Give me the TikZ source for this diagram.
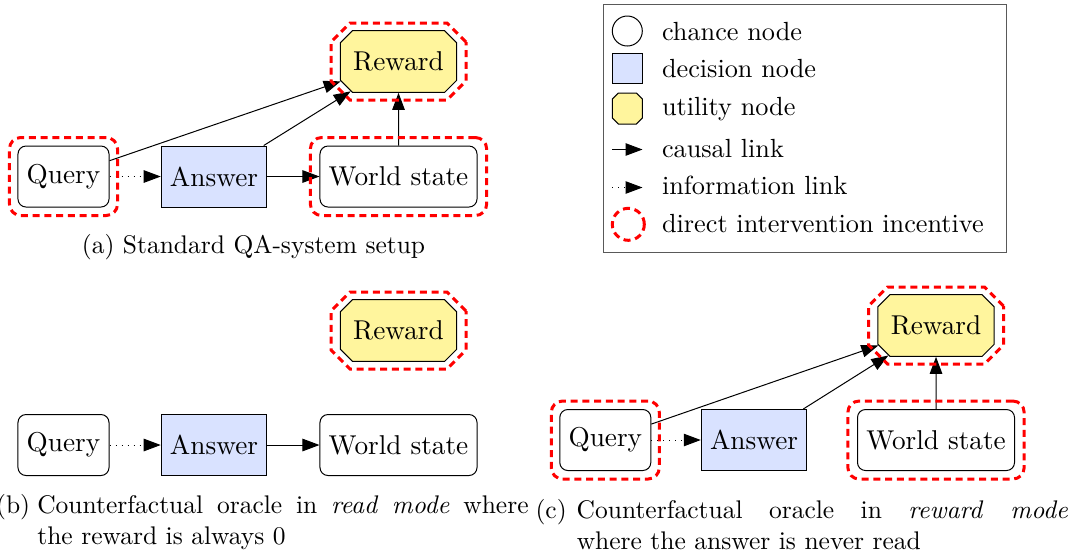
\documentclass[tikz,border=0pt]{standalone}
\usetikzlibrary{shapes.misc,arrows.meta}
\definecolor{decblue}{RGB}{217,226,255}
\definecolor{utilyellow}{RGB}{255,245,157}
\definecolor{incred}{RGB}{255,0,0}
\begin{document}
\begin{tikzpicture}[x=0.4pt,y=-0.4pt,
  nodefont/.style={font=\fontsize{10.9}{13}\selectfont},
  chance/.style={nodefont, draw, fill=white, rounded corners=3.2pt, rectangle, minimum height=24.4pt, inner xsep=3.5pt, inner ysep=0pt},
  decision/.style={nodefont, draw, fill=decblue, rectangle, minimum height=24.4pt, inner xsep=3.5pt, inner ysep=0pt},
  utility/.style={nodefont, draw, fill=utilyellow, chamfered rectangle, chamfered rectangle xsep=2.4pt, chamfered rectangle ysep=2.4pt, inner xsep=2.75pt, inner ysep=6.02pt},
  incline/.style={draw=incred, line width=1.2pt, dash pattern=on 2.8pt off 1.9pt},
  incrr/.style={incline, rounded corners=4.5pt, rectangle, minimum width=#1, minimum height=31.2pt, inner sep=0pt},
  incoct/.style={incline, chamfered rectangle, chamfered rectangle xsep=3.8pt, chamfered rectangle ysep=3.8pt, inner xsep=23.2pt, inner ysep=11.6pt},
  causal/.style={-{Triangle[length=6.8pt,width=5pt]}},
  info/.style={dotted, -{Triangle[length=6.8pt,width=5pt]}},
  captext/.style={font=\fontsize{10.2}{12.4}\selectfont, anchor=base west, inner sep=0pt},
  legtext/.style={font=\fontsize{10.5}{12.6}\selectfont, anchor=base west, inner sep=0pt},
]
\useasboundingbox (0,0) rectangle (1077,556);

% ---------- (a) ----------
\node[chance] (a-q) at (63.5,176.5) {Query};
\node[decision] (a-a) at (214,176.5) {Answer};
\node[chance] (a-w) at (398.5,176.5) {World state};
\node[utility] (a-r) at (398.5,61.5) {Reward};
\draw[info] (a-q) -- (a-a);
\draw[causal] (a-a) -- (a-w);
\draw[causal] (a-q) -- (a-r);
\draw[causal] (a-a) -- (a-r);
\draw[causal] (a-w) -- (a-r);
\node[incrr=43.2pt] (a-qi) at (a-q) {};
\node[incrr=70.5pt] (a-wi) at (a-w) {};
\node[incoct] (a-ri) at (a-r) {};
\node[captext, anchor=base] (cap-a) at (253.5,253) {(a) Standard QA-system setup};

% ---------- (b) ----------
\node[chance] (b-q) at (63.5,445) {Query};
\node[decision] (b-a) at (214,445) {Answer};
\node[chance] (b-w) at (398.5,445) {World state};
\node[utility] (b-r) at (398.5,330.5) {Reward};
\draw[info] (b-q) -- (b-a);
\draw[causal] (b-a) -- (b-w);
\node[incoct] (b-ri) at (b-r) {};
\node[captext] (cap-b) at (-4.4,513)
  {\begin{tabular}[t]{@{}p{16.5pt}@{}p{196.5pt}@{}}(b)&Counterfactual oracle in \emph{read mode} where\linebreak the reward is always 0\end{tabular}};

% ---------- (c) ----------
\node[chance] (c-q) at (605.3,440) {Query};
\node[decision] (c-a) at (754,440) {Answer};
\node[chance] (c-w) at (936,440) {World state};
\node[utility] (c-r) at (936,325.5) {Reward};
\draw[info] (c-q) -- (c-a);
\draw[causal] (c-q) -- (c-r);
\draw[causal] (c-a) -- (c-r);
\draw[causal] (c-w) -- (c-r);
\node[incrr=43.2pt] (c-qi) at (c-q) {};
\node[incrr=70.5pt] (c-wi) at (c-w) {};
\node[incoct] (c-ri) at (c-r) {};
\node[captext] (cap-c) at (535,518)
  {\begin{tabular}[t]{@{}p{16.5pt}@{}p{196.5pt}@{}}(c)&Counterfactual oracle in \emph{reward mode}\linebreak where the answer is never read\end{tabular}};

% ---------- legend ----------
\node[draw=black!65, minimum width=161.2pt, minimum height=99.2pt, inner sep=0pt] (legend) at (804.5,128) {};
\node[draw, circle, fill=white, minimum size=12pt, inner sep=0pt] (lg-c) at (627.3,31) {};
\node[draw, fill=decblue, minimum size=12pt, inner sep=0pt] (lg-d) at (627.3,68.5) {};
\node[draw, fill=utilyellow, chamfered rectangle, chamfered rectangle xsep=1.2pt, chamfered rectangle ysep=1.2pt, inner xsep=4.8pt, inner ysep=5pt] (lg-u) at (627.3,108.5) {};
\coordinate (lg-a1) at (612,149.5);
\coordinate (lg-a2) at (642.5,149.5);
\draw[causal] (lg-a1) -- (lg-a2);
\coordinate (lg-b1) at (612,187.5);
\coordinate (lg-b2) at (642.5,187.5);
\draw[info] (lg-b1) -- (lg-b2);
\node[incline, circle, minimum size=12.8pt, inner sep=0pt] (lg-i) at (628.3,224.3) {};
\node[legtext] (lt-c) at (661.5,40) {chance node};
\node[legtext] (lt-d) at (661.5,77.3) {decision node};
\node[legtext] (lt-u) at (661.5,115) {utility node};
\node[legtext] (lt-a) at (661.5,157) {causal link};
\node[legtext] (lt-b) at (661.5,194) {information link};
\node[legtext] (lt-i) at (661.5,232) {direct intervention incentive};
\end{tikzpicture}
\end{document}
